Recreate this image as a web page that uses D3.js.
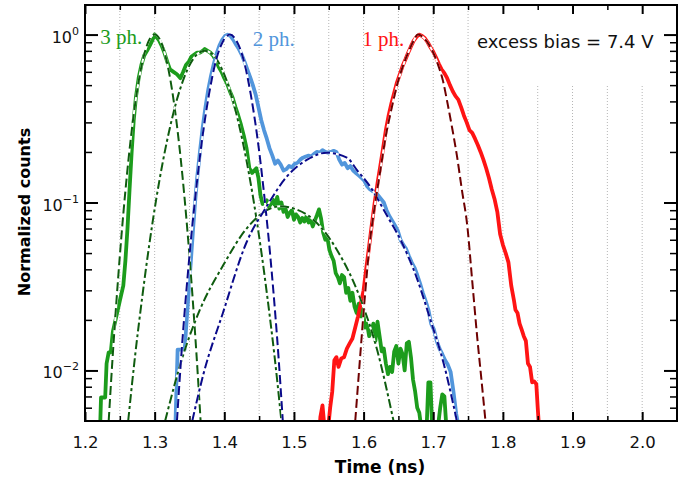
<!DOCTYPE html>
<html>
<head>
<meta charset="utf-8">
<script src="https://cdn.jsdelivr.net/npm/d3@7"></script>
<style>
  body { margin: 0; background: #fff; }
  svg { display: block; }
</style>
</head>
<body>
<script>
// axis ticks
const xTicks = [1.2, 1.3, 1.4, 1.5, 1.6, 1.7, 1.8, 1.9, 2.0];
const xMinorTicks = [1.25, 1.35, 1.45, 1.55, 1.65, 1.75, 1.85, 1.95];
const yDecades = [1, 0.1, 0.01];
const yExponents = ['0', '\u22121', '\u22122'];
const yMinorTicks = [0.006, 0.007, 0.008, 0.009, 0.02, 0.03, 0.04, 0.05, 0.06, 0.07, 0.08, 0.09,
  0.2, 0.3, 0.4, 0.5, 0.6, 0.7, 0.8, 0.9];

// measured histograms [time (ns), normalized counts]
const threePhData = [
  [1.221, 0.004], [1.222, 0.005], [1.223, 0.0069], [1.229, 0.0069], [1.231, 0.011], [1.234, 0.0128],
  [1.237, 0.0128], [1.240, 0.017], [1.245, 0.021], [1.250, 0.026], [1.255, 0.032], [1.258, 0.045],
  [1.261, 0.07], [1.264, 0.12], [1.267, 0.2], [1.270, 0.31], [1.273, 0.42], [1.277, 0.55],
  [1.281, 0.66], [1.285, 0.75], [1.289, 0.80], [1.293, 0.86], [1.297, 0.93], [1.300, 1.0],
  [1.303, 0.96], [1.306, 0.93], [1.310, 0.86], [1.314, 0.78], [1.318, 0.69], [1.322, 0.62],
  [1.327, 0.60], [1.332, 0.58], [1.337, 0.55], [1.341, 0.60], [1.345, 0.66], [1.349, 0.69],
  [1.353, 0.74], [1.357, 0.76], [1.361, 0.78], [1.365, 0.78], [1.369, 0.80], [1.372, 0.82],
  [1.376, 0.80], [1.380, 0.78], [1.384, 0.75], [1.388, 0.70], [1.392, 0.64], [1.396, 0.60],
  [1.400, 0.55], [1.404, 0.51], [1.408, 0.46], [1.412, 0.42], [1.416, 0.37], [1.420, 0.33],
  [1.424, 0.29], [1.428, 0.25], [1.432, 0.21], [1.436, 0.16], [1.440, 0.15], [1.443, 0.155],
  [1.446, 0.16], [1.449, 0.14], [1.452, 0.11], [1.455, 0.098], [1.458, 0.10], [1.461, 0.103],
  [1.464, 0.094], [1.467, 0.098], [1.470, 0.104], [1.473, 0.095], [1.476, 0.108], [1.479, 0.092],
  [1.482, 0.10], [1.485, 0.088], [1.488, 0.092], [1.491, 0.082], [1.494, 0.087], [1.497, 0.090],
  [1.500, 0.079], [1.503, 0.085], [1.506, 0.082], [1.509, 0.076], [1.512, 0.081], [1.515, 0.077],
  [1.518, 0.083], [1.521, 0.076], [1.524, 0.079], [1.527, 0.072], [1.530, 0.078], [1.533, 0.084],
  [1.536, 0.091], [1.539, 0.080], [1.542, 0.066], [1.545, 0.060], [1.548, 0.062], [1.551, 0.052],
  [1.554, 0.048], [1.557, 0.045], [1.560, 0.038], [1.563, 0.036], [1.566, 0.033], [1.569, 0.037],
  [1.572, 0.036], [1.575, 0.029], [1.578, 0.031], [1.581, 0.026], [1.584, 0.029], [1.587, 0.024],
  [1.590, 0.022], [1.593, 0.025], [1.596, 0.021], [1.599, 0.023], [1.602, 0.018], [1.605, 0.019],
  [1.608, 0.016], [1.611, 0.017], [1.614, 0.019], [1.617, 0.015], [1.620, 0.0195], [1.623, 0.016],
  [1.626, 0.013], [1.629, 0.0135], [1.632, 0.011], [1.635, 0.0095], [1.638, 0.0105], [1.641, 0.0098],
  [1.644, 0.013], [1.647, 0.014], [1.650, 0.011], [1.653, 0.0135], [1.656, 0.0125], [1.659, 0.010],
  [1.662, 0.0145], [1.665, 0.0148], [1.668, 0.012], [1.671, 0.0088], [1.674, 0.0075], [1.677, 0.006],
  [1.680, 0.0056], [1.683, 0.0045], [1.686, 0.004], [1.690, 0.004], [1.693, 0.0085], [1.696, 0.0085],
  [1.699, 0.004], [1.705, 0.004], [1.710, 0.006], [1.713, 0.0072], [1.716, 0.007], [1.719, 0.0045],
  [1.721, 0.004]
];

const twoPhData = [
  [1.328, 0.004], [1.330, 0.005], [1.333, 0.0133], [1.343, 0.0133], [1.346, 0.02], [1.349, 0.03],
  [1.352, 0.045], [1.355, 0.068], [1.358, 0.10], [1.361, 0.14], [1.365, 0.20], [1.369, 0.28],
  [1.373, 0.37], [1.377, 0.47], [1.381, 0.57], [1.385, 0.67], [1.389, 0.77], [1.393, 0.86],
  [1.397, 0.93], [1.401, 0.98], [1.405, 1.0], [1.409, 0.98], [1.413, 0.93], [1.417, 0.87],
  [1.421, 0.82], [1.425, 0.76], [1.429, 0.69], [1.433, 0.62], [1.437, 0.56], [1.441, 0.50],
  [1.445, 0.44], [1.449, 0.37], [1.453, 0.31], [1.457, 0.27], [1.461, 0.24], [1.465, 0.21],
  [1.469, 0.19], [1.473, 0.17], [1.477, 0.178], [1.481, 0.168], [1.485, 0.155], [1.489, 0.158],
  [1.493, 0.165], [1.497, 0.162], [1.501, 0.17], [1.505, 0.172], [1.509, 0.18], [1.513, 0.185],
  [1.517, 0.188], [1.521, 0.19], [1.525, 0.188], [1.529, 0.195], [1.533, 0.20], [1.537, 0.198],
  [1.541, 0.205], [1.545, 0.20], [1.549, 0.198], [1.553, 0.20], [1.557, 0.203], [1.561, 0.20],
  [1.565, 0.18], [1.569, 0.168], [1.573, 0.172], [1.577, 0.16], [1.581, 0.165], [1.585, 0.155],
  [1.589, 0.15], [1.593, 0.145], [1.597, 0.14], [1.601, 0.135], [1.605, 0.125], [1.609, 0.12],
  [1.613, 0.117], [1.617, 0.115], [1.621, 0.11], [1.625, 0.105], [1.629, 0.10], [1.633, 0.09],
  [1.637, 0.083], [1.641, 0.078], [1.645, 0.073], [1.649, 0.068], [1.653, 0.06], [1.657, 0.056],
  [1.661, 0.053], [1.665, 0.048], [1.669, 0.044], [1.673, 0.041], [1.677, 0.037], [1.681, 0.033],
  [1.685, 0.029], [1.689, 0.026], [1.693, 0.023], [1.697, 0.019], [1.701, 0.0175], [1.705, 0.015],
  [1.709, 0.0135], [1.713, 0.0125], [1.717, 0.0115], [1.721, 0.0108], [1.725, 0.0098], [1.729, 0.0075],
  [1.733, 0.0055], [1.737, 0.0045]
];

const onePhData = [
  [1.536, 0.004], [1.538, 0.0053], [1.541, 0.0062], [1.544, 0.0045], [1.546, 0.004], [1.549, 0.0045],
  [1.552, 0.006], [1.555, 0.0075], [1.558, 0.0115], [1.561, 0.012], [1.564, 0.0105], [1.568, 0.0118],
  [1.572, 0.012], [1.576, 0.0135], [1.580, 0.0145], [1.584, 0.0155], [1.588, 0.018], [1.592, 0.021],
  [1.596, 0.025], [1.600, 0.030], [1.604, 0.041], [1.608, 0.055], [1.612, 0.075], [1.616, 0.10],
  [1.620, 0.13], [1.624, 0.165], [1.628, 0.21], [1.632, 0.27], [1.636, 0.33], [1.640, 0.39],
  [1.644, 0.45], [1.648, 0.52], [1.652, 0.58], [1.656, 0.65], [1.660, 0.71], [1.664, 0.78],
  [1.668, 0.85], [1.672, 0.92], [1.676, 0.97], [1.680, 1.0], [1.684, 0.98], [1.688, 0.95],
  [1.692, 0.90], [1.696, 0.84], [1.700, 0.79], [1.704, 0.73], [1.708, 0.67], [1.712, 0.62],
  [1.716, 0.59], [1.720, 0.55], [1.724, 0.50], [1.728, 0.46], [1.732, 0.43], [1.736, 0.41],
  [1.740, 0.37], [1.744, 0.33], [1.748, 0.30], [1.752, 0.27], [1.756, 0.26], [1.760, 0.24],
  [1.764, 0.22], [1.768, 0.20], [1.772, 0.18], [1.776, 0.16], [1.780, 0.14], [1.784, 0.12],
  [1.788, 0.105], [1.792, 0.088], [1.796, 0.065], [1.800, 0.056], [1.804, 0.05], [1.808, 0.044],
  [1.812, 0.032], [1.816, 0.026], [1.818, 0.023], [1.821, 0.022], [1.824, 0.019], [1.827, 0.0175],
  [1.830, 0.016], [1.833, 0.015], [1.836, 0.011], [1.839, 0.0105], [1.842, 0.0085], [1.845, 0.0086],
  [1.848, 0.0083], [1.850, 0.006], [1.852, 0.0045]
];

// fitted components
const threePhFitA = [
  [1.234, 0.005], [1.24, 0.0126], [1.25, 0.048], [1.26, 0.143], [1.27, 0.335], [1.28, 0.615],
  [1.29, 0.886], [1.30, 1.0], [1.31, 0.886], [1.32, 0.615], [1.33, 0.335], [1.34, 0.143],
  [1.35, 0.048], [1.36, 0.0126], [1.366, 0.005]
];
const threePhFitB = [
  [1.262, 0.005], [1.272, 0.0123], [1.282, 0.027], [1.292, 0.055], [1.302, 0.103], [1.312, 0.177],
  [1.322, 0.28], [1.332, 0.41], [1.342, 0.55], [1.352, 0.68], [1.362, 0.77], [1.372, 0.80],
  [1.382, 0.77], [1.392, 0.68], [1.402, 0.55], [1.412, 0.41], [1.422, 0.28], [1.432, 0.177],
  [1.442, 0.103], [1.452, 0.055], [1.462, 0.027], [1.472, 0.0123], [1.482, 0.005]
];
const threePhFitC = [
  [1.315, 0.005], [1.34, 0.012], [1.365, 0.023], [1.398, 0.042], [1.432, 0.07], [1.461, 0.09],
  [1.48, 0.095], [1.50, 0.092], [1.528, 0.079], [1.562, 0.052], [1.595, 0.027], [1.62, 0.013],
  [1.643, 0.005]
];
const twoPhFitA = [
  [1.332, 0.005], [1.338, 0.0118], [1.348, 0.039], [1.358, 0.104], [1.368, 0.235], [1.378, 0.44],
  [1.388, 0.70], [1.398, 0.91], [1.408, 1.0], [1.418, 0.91], [1.428, 0.70], [1.438, 0.44],
  [1.448, 0.235], [1.458, 0.104], [1.468, 0.039], [1.478, 0.0118], [1.484, 0.005]
];
const twoPhFitB = [
  [1.354, 0.005], [1.37, 0.0095], [1.398, 0.022], [1.432, 0.058], [1.461, 0.095], [1.49, 0.143],
  [1.519, 0.18], [1.547, 0.198], [1.576, 0.185], [1.591, 0.155], [1.609, 0.125], [1.634, 0.083],
  [1.653, 0.06], [1.677, 0.035], [1.696, 0.02], [1.715, 0.011], [1.734, 0.005]
];
const onePhFit = [
  [1.588, 0.005], [1.595, 0.012], [1.602, 0.028], [1.609, 0.058], [1.616, 0.095], [1.624, 0.155],
  [1.632, 0.25], [1.64, 0.36], [1.648, 0.50], [1.656, 0.64], [1.664, 0.78], [1.672, 0.92],
  [1.678, 1.0], [1.686, 0.96], [1.694, 0.87], [1.70, 0.78], [1.707, 0.66], [1.714, 0.53],
  [1.72, 0.40], [1.727, 0.28], [1.734, 0.19], [1.741, 0.12], [1.749, 0.072], [1.756, 0.034],
  [1.763, 0.016], [1.769, 0.009], [1.775, 0.005]
];

const seriesLabels = ['3 ph.', '2 ph.', '1 ph.'];
const seriesLabelTimes = [1.222, 1.441, 1.598];
const annotation = 'excess bias = 7.4 V';

// ---- drawing ----
const margin = { top: 5, right: 13, bottom: 59, left: 85 },
      width = 690 - margin.left - margin.right,
      height = 480 - margin.top - margin.bottom;

const x = d3.scaleLinear().domain([1.2, 2.05]).range([0, width]);
const y = d3.scaleLog().domain([0.005, 1.5]).range([height, 0]);

const svg = d3.select('body').append('svg')
    .attr('width', 690)
    .attr('height', 480);

const g = svg.append('g')
    .attr('transform', 'translate(' + margin.left + ',' + margin.top + ')');

g.append('clipPath').attr('id', 'plotClip')
  .append('rect').attr('width', width).attr('height', height);

// dotted vertical grid
g.append('g').selectAll('line')
  .data(xTicks.slice(1).concat(xMinorTicks))
  .enter().append('line')
    .attr('x1', d => x(d)).attr('x2', d => x(d))
    .attr('y1', 0).attr('y2', height)
    .attr('stroke', '#b5b5b5')
    .attr('stroke-width', 1)
    .attr('stroke-dasharray', '1,2');

// white box behind the annotation
g.append('rect')
  .attr('x', 390).attr('y', 2)
  .attr('width', 198).attr('height', 77)
  .attr('fill', '#fff');

const line = d3.line().x(d => x(d[0])).y(d => y(d[1]));
const smooth = d3.line().x(d => x(d[0])).y(d => y(d[1])).curve(d3.curveMonotoneX);

const plot = g.append('g').attr('clip-path', 'url(#plotClip)');

const seriesColors = ['#1c9c1c', '#5296dc', '#ff1414'];
[threePhData, twoPhData, onePhData].forEach((values, i) => {
  plot.append('path')
    .attr('d', line(values))
    .attr('fill', 'none')
    .attr('stroke', seriesColors[i])
    .attr('stroke-width', 3.8)
    .attr('stroke-linejoin', 'round');
});

const fitSeries = [
  { values: threePhFitA, color: '#0f5c0f', dash: '9,4' },
  { values: threePhFitB, color: '#0f5c0f', dash: '9,3,3,3' },
  { values: threePhFitC, color: '#0f5c0f', dash: '9,3,3,3' },
  { values: twoPhFitA, color: '#0a0a8a', dash: '9,4' },
  { values: twoPhFitB, color: '#0a0a8a', dash: '9,3,3,3' },
  { values: onePhFit, color: '#6e0000', dash: '9,4' }
];
fitSeries.forEach(s => {
  plot.append('path')
    .attr('d', smooth(s.values))
    .attr('fill', 'none')
    .attr('stroke', '#fff')
    .attr('stroke-width', 2);
  plot.append('path')
    .attr('d', smooth(s.values))
    .attr('fill', 'none')
    .attr('stroke', s.color)
    .attr('stroke-width', 2)
    .attr('stroke-dasharray', s.dash);
});

// axes
function styleAxis(sel, w) {
  sel.select('.domain').remove();
  sel.selectAll('.tick line').attr('stroke', '#000').attr('stroke-width', w);
}

g.append('g')
    .attr('transform', 'translate(0,' + height + ')')
    .call(d3.axisBottom(x).tickValues(xTicks).tickSize(-9).tickPadding(15)
      .tickFormat(d3.format('.1f')))
    .call(s => styleAxis(s, 2))
    .call(s => s.selectAll('text')
      .attr('font-family', 'DejaVu Sans').attr('font-size', 16.5).attr('fill', '#111'));

g.append('g')
    .attr('transform', 'translate(0,' + height + ')')
    .call(d3.axisBottom(x).tickValues(xMinorTicks).tickSize(-5).tickFormat(''))
    .call(s => styleAxis(s, 1.5));

g.append('g')
    .call(d3.axisTop(x).tickValues(xTicks).tickSize(-9).tickFormat(''))
    .call(s => styleAxis(s, 2));
g.append('g')
    .call(d3.axisTop(x).tickValues(xMinorTicks).tickSize(-5).tickFormat(''))
    .call(s => styleAxis(s, 1.5));

g.append('g')
    .call(d3.axisLeft(y).tickValues(yDecades).tickSize(-13).tickFormat(''))
    .call(s => styleAxis(s, 2));
g.append('g')
    .call(d3.axisLeft(y).tickValues(yMinorTicks).tickSize(-7).tickFormat(''))
    .call(s => styleAxis(s, 1.5));
g.append('g')
    .attr('transform', 'translate(' + width + ',0)')
    .call(d3.axisRight(y).tickValues(yDecades).tickSize(-13).tickFormat(''))
    .call(s => styleAxis(s, 2));
g.append('g')
    .attr('transform', 'translate(' + width + ',0)')
    .call(d3.axisRight(y).tickValues(yMinorTicks).tickSize(-7).tickFormat(''))
    .call(s => styleAxis(s, 1.5));

// y tick labels with superscripts
const yLabels = g.append('g').selectAll('text')
  .data(yDecades)
  .enter().append('text')
    .attr('x', -6)
    .attr('y', d => y(d) + 8)
    .attr('text-anchor', 'end')
    .attr('font-family', 'DejaVu Sans')
    .attr('font-size', 16)
    .attr('fill', '#111');
yLabels.append('tspan').text('10');
yLabels.append('tspan')
    .attr('dy', -8)
    .attr('font-size', 11)
    .text((d, i) => yExponents[i]);

// frame
g.append('rect')
  .attr('width', width).attr('height', height)
  .attr('fill', 'none')
  .attr('stroke', '#000')
  .attr('stroke-width', 2);

// series labels
g.append('g').selectAll('text')
  .data(seriesLabels)
  .enter().append('text')
    .attr('x', (d, i) => x(seriesLabelTimes[i]))
    .attr('y', (d, i) => i === 0 ? 39 : 41)
    .attr('font-family', 'Liberation Serif')
    .attr('font-size', 21)
    .attr('fill', (d, i) => seriesColors[i])
    .text(d => d);

svg.append('text')
  .attr('x', 477).attr('y', 48)
  .attr('font-family', 'DejaVu Sans')
  .attr('font-size', 18)
  .attr('fill', '#111')
  .text(annotation);

// axis titles
svg.append('text')
  .attr('x', 380).attr('y', 473)
  .attr('text-anchor', 'middle')
  .attr('font-family', 'DejaVu Sans')
  .attr('font-weight', 'bold')
  .attr('font-size', 17)
  .text('Time (ns)');

svg.append('text')
  .attr('transform', 'translate(30,212) rotate(-90)')
  .attr('text-anchor', 'middle')
  .attr('font-family', 'DejaVu Sans')
  .attr('font-weight', 'bold')
  .attr('font-size', 16)
  .text('Normalized counts');
</script>
</body>
</html>
